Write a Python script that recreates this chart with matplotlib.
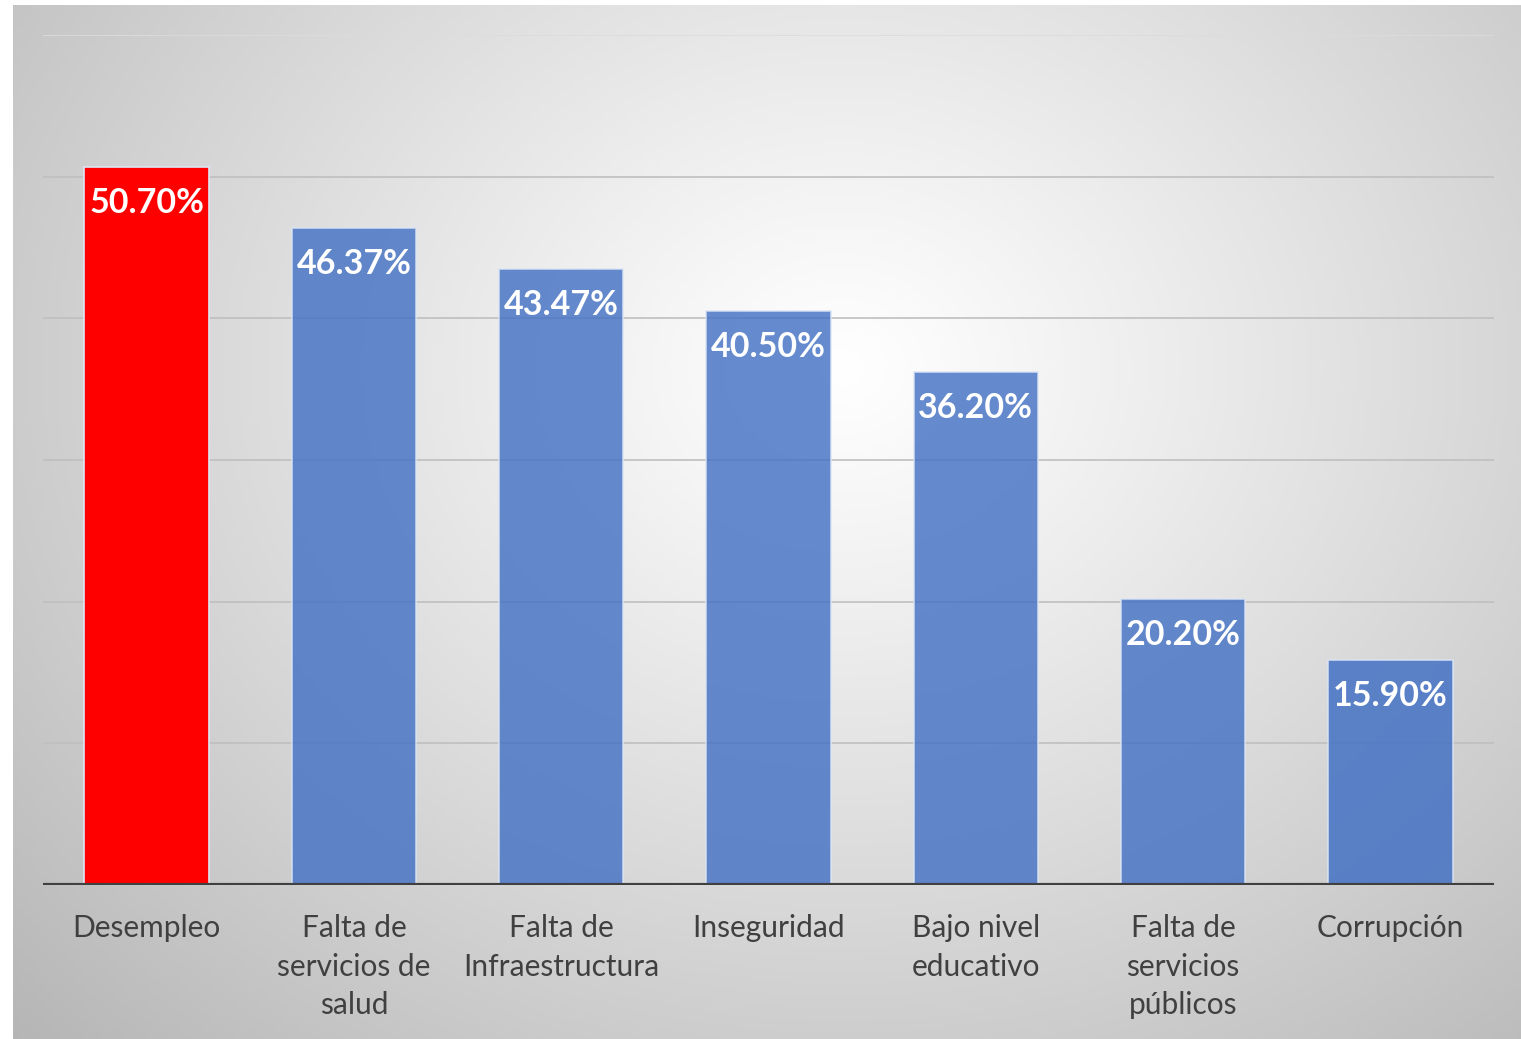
import numpy as np
import matplotlib.pyplot as plt

categories = [
    "Desempleo",
    "Falta de\nservicios de\nsalud",
    "Falta de\nInfraestructura",
    "Inseguridad",
    "Bajo nivel\neducativo",
    "Falta de\nservicios\npúblicos",
    "Corrupción",
]
values = [50.70, 46.37, 43.47, 40.50, 36.20, 20.20, 15.90]
labels = ["50.70%", "46.37%", "43.47%", "40.50%", "36.20%", "20.20%", "15.90%"]
colors = ["#ff0000", "#4472c4", "#4472c4", "#4472c4", "#4472c4", "#4472c4", "#4472c4"]
alphas = [1.0, 0.82, 0.82, 0.82, 0.82, 0.82, 0.85]

W, H = 1521, 1039
fig = plt.figure(figsize=(W / 100, H / 100), dpi=100)
plt.rcParams["font.family"] = ["Lato", "DejaVu Sans"]

# radial gradient background panel
bg = fig.add_axes([13 / W, 0, (W - 13) / W, (H - 5) / H])
gx, gy = np.meshgrid(np.linspace(0, 1, 400), np.linspace(0, 1, 300))
r = np.sqrt(((gx - 0.55) / 0.7) ** 2 + ((gy - 0.35) / 0.85) ** 2)
shade = 1.0 - 0.26 * np.clip(r, 0, 1.1) ** 1.1
bg.imshow(np.dstack([shade] * 3), aspect="auto", extent=[0, 1, 0, 1], origin="upper")
bg.set_axis_off()

ax = fig.add_axes([43 / W, (H - 885) / H, 1451 / W, 850 / H])
ax.patch.set_alpha(0)
x = np.arange(len(categories))
ax.set_xlim(-0.5, len(categories) - 0.5)
ax.set_ylim(0, 60)

for yv in range(10, 61, 10):
    ax.axhline(yv, color="#bfbfbf" if yv < 60 else "#dcdcdc", lw=1.2, zorder=1)

for i in range(len(values)):
    ax.bar(x[i], values[i], width=0.6, color=colors[i], alpha=alphas[i],
           edgecolor="#dde6f5", linewidth=1.2, zorder=2)
    ax.text(x[i], values[i] - 2.55, labels[i], ha="center", va="center",
            color="white", fontsize=24.5, fontweight="bold", zorder=3)

ax.axhline(0, color="#404040", lw=3, zorder=4)
for s in ax.spines.values():
    s.set_visible(False)
ax.set_yticks([])
ax.set_xticks(x)
ax.set_xticklabels(categories, fontsize=21.5, color="#404040", linespacing=1.45)
ax.tick_params(axis="x", length=0, pad=21)

fig.savefig("out.png", dpi=100)
